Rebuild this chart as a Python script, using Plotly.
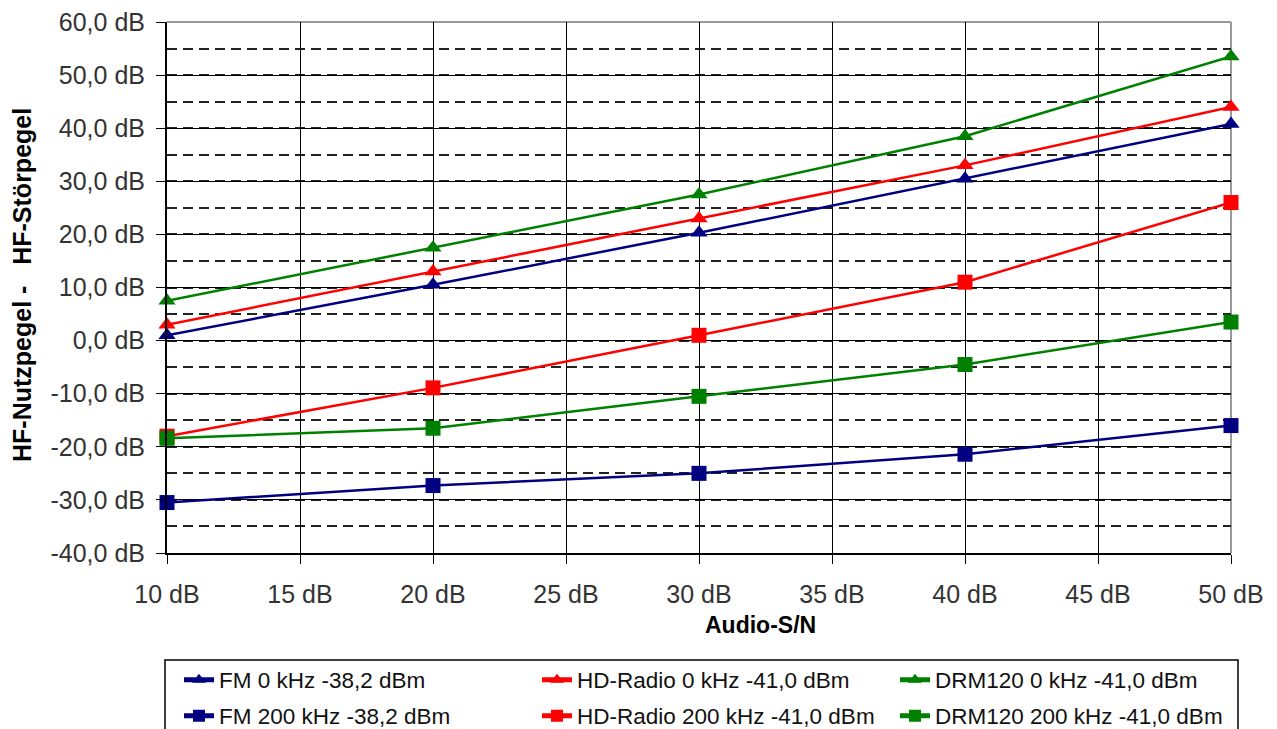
import plotly.graph_objects as go

# Audio-S/N axis (dB)
audio_sn = [10, 20, 30, 40, 50]

# Required RF level difference (wanted minus interferer), dB
fm_0 = [1.0, 10.5, 20.3, 30.5, 40.8]
hd_0 = [3.0, 13.0, 23.0, 33.0, 44.0]
drm_0 = [7.5, 17.5, 27.5, 38.5, 53.5]
fm_200 = [-30.5, -27.3, -25.0, -21.4, -16.0]
hd_200 = [-18.0, -8.9, 1.0, 11.0, 26.0]
drm_200 = [-18.4, -16.5, -10.5, -4.5, 3.5]

series_names = [
    "FM 0 kHz -38,2 dBm",
    "HD-Radio 0 kHz -41,0 dBm",
    "DRM120 0 kHz -41,0 dBm",
    "FM 200 kHz -38,2 dBm",
    "HD-Radio 200 kHz -41,0 dBm",
    "DRM120 200 kHz -41,0 dBm",
]

y_tickvals = [60, 50, 40, 30, 20, 10, 0, -10, -20, -30, -40]
y_ticktext = ["60,0 dB", "50,0 dB", "40,0 dB", "30,0 dB", "20,0 dB", "10,0 dB",
              "0,0 dB", "-10,0 dB", "-20,0 dB", "-30,0 dB", "-40,0 dB"]
x_tickvals = [10, 15, 20, 25, 30, 35, 40, 45, 50]
x_ticktext = ["10 dB", "15 dB", "20 dB", "25 dB", "30 dB", "35 dB", "40 dB", "45 dB", "50 dB"]

NAVY, RED, GREEN = "#000080", "#ff0000", "#008000"
FONT = "Liberation Sans, Arial, sans-serif"

series = [
    (fm_0, NAVY, "triangle-up", "legend"),
    (hd_0, RED, "triangle-up", "legend"),
    (drm_0, GREEN, "triangle-up", "legend"),
    (fm_200, NAVY, "square", "legend2"),
    (hd_200, RED, "square", "legend2"),
    (drm_200, GREEN, "square", "legend2"),
]

fig = go.Figure()
for name, (vals, color, symbol, leg) in zip(series_names, series):
    fig.add_trace(go.Scatter(
        x=audio_sn, y=vals, name=name, mode="lines+markers", legend=leg,
        line=dict(color=color, width=2.5),
        marker=dict(color=color, symbol=symbol, size=15, line=dict(width=0)),
        cliponaxis=False,
    ))

W, H = 1277, 729
L, R, T, B = 167, 46, 22, 176
pw, ph = W - L - R, H - T - B


def px_x(px):
    return (px - L) / pw


def px_y(py):
    return (H - B - py) / ph


legend_common = dict(
    orientation="h", xanchor="right", yanchor="middle",
    borderwidth=0, bgcolor="rgba(0,0,0,0)",
    font=dict(size=22.5, color="#111", family=FONT),
    entrywidth=313, entrywidthmode="pixels",
    itemsizing="constant",
)

fig.update_layout(
    width=W, height=H,
    margin=dict(l=L, r=R, t=T, b=B, pad=0, autoexpand=False),
    paper_bgcolor="white", plot_bgcolor="white",
    font=dict(family=FONT, color="#222"),
    showlegend=True,
    legend=dict(x=px_x(1253), y=px_y(680), **legend_common),
    legend2=dict(x=px_x(1253), y=px_y(716), **legend_common),
    xaxis=dict(
        range=[10, 50], tickvals=x_tickvals, ticktext=x_ticktext,
        showgrid=True, gridcolor="black", gridwidth=1.3,
        showline=True, linecolor="black", linewidth=2,
        ticks="outside", ticklen=9, tickcolor="black", tickwidth=1.3,
        tickfont=dict(size=25, color="#333"), ticklabelstandoff=9,
        zeroline=False, fixedrange=True,
    ),
    yaxis=dict(
        range=[-40, 60], tickvals=y_tickvals, ticktext=y_ticktext,
        showgrid=True, gridcolor="black", gridwidth=1.3,
        minor=dict(dtick=5, tick0=5, showgrid=True, gridcolor="#222",
                   griddash="10px,6px", gridwidth=1.6, ticks=""),
        showline=True, linecolor="black", linewidth=2,
        ticks="outside", ticklen=9, tickcolor="black", tickwidth=1.3,
        tickfont=dict(size=25, color="#333"), ticklabelstandoff=6,
        zeroline=False, fixedrange=True,
    ),
    annotations=[
        dict(text="<b>Audio-S/N</b>", xref="paper", yref="paper",
             x=px_x(760), y=px_y(625), xanchor="center", yanchor="middle",
             showarrow=False, font=dict(size=23, color="black", family=FONT)),
        dict(text="<b>HF-Nutzpegel -\u00a0\u00a0\u00a0HF-Störpegel</b>", xref="paper", yref="paper",
             x=px_x(22), y=px_y(285), xanchor="center", yanchor="middle",
             textangle=-90, showarrow=False,
             font=dict(size=25, color="black", family=FONT)),
    ],
    shapes=[
        # light frame on the top and right edges of the plot area
        dict(type="line", xref="paper", yref="paper", x0=0, x1=1, y0=1, y1=1,
             line=dict(color="#999", width=2), layer="below"),
        dict(type="line", xref="paper", yref="paper", x0=1, x1=1, y0=0, y1=1,
             line=dict(color="#999", width=2), layer="below"),
        # legend box
        dict(type="rect", xref="paper", yref="paper",
             x0=px_x(165), x1=px_x(1238), y0=px_y(740), y1=px_y(660),
             line=dict(color="black", width=1.5), fillcolor="rgba(0,0,0,0)"),
    ],
)

fig.write_html("out.html")
